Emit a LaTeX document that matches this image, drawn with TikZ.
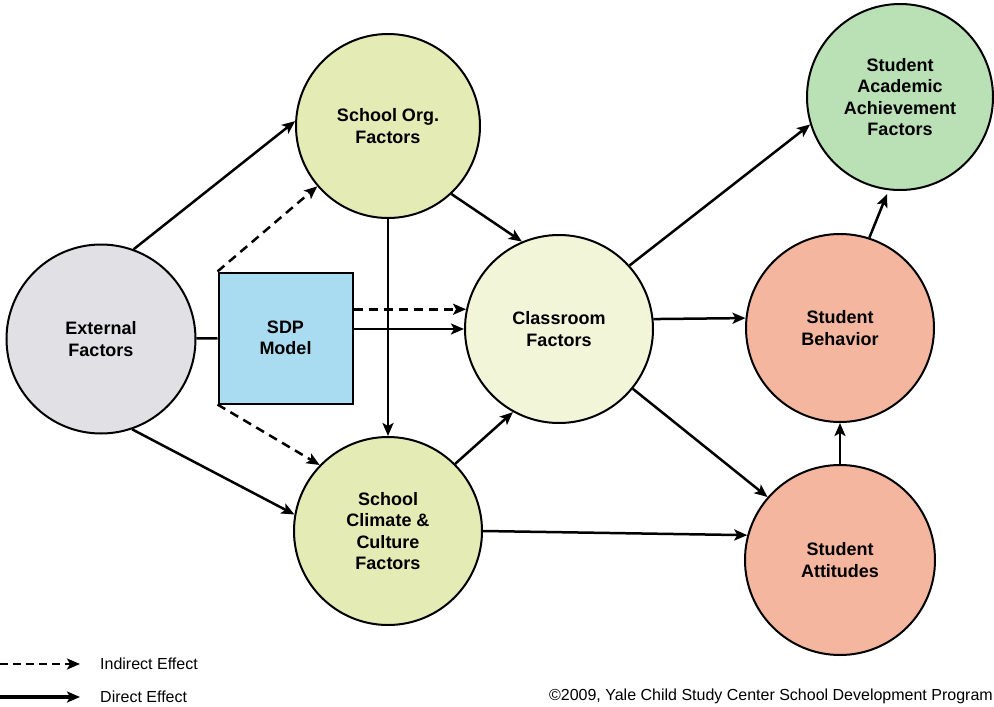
\documentclass[tikz,border=0pt]{standalone}
\usepackage{fontspec}
\setmainfont{Liberation Sans}
\usetikzlibrary{arrows.meta,calc}

\definecolor{extfill}{HTML}{E1E1E5}
\definecolor{orgfill}{HTML}{E4EBB4}
\definecolor{clsfill}{HTML}{F2F5D8}
\definecolor{acadfill}{HTML}{BAE0B6}
\definecolor{stufill}{HTML}{F5B6A0}
\definecolor{sdpfill}{HTML}{AADCF1}

\begin{document}
\begin{tikzpicture}[x=1pt,y=-1pt,
  factor/.style={circle,draw=black,line width=2pt,inner sep=0pt,align=center,
    font=\fontsize{18}{21.3}\selectfont\bfseries},
  modelbox/.style={rectangle,draw=black,line width=2pt,fill=sdpfill,inner sep=0pt,
    minimum width=134pt,minimum height=131pt,align=center,
    font=\fontsize{18}{21.3}\selectfont\bfseries},
  link/.style={line width=2.5pt,-{Stealth[length=13pt,width=11pt,inset=3pt]}},
  indirect/.style={link,dash pattern=on 9pt off 6pt},
  joinline/.style={line width=2.5pt},
  legendtext/.style={anchor=west,inner sep=0pt,font=\fontsize{16}{18}\selectfont},
]
\useasboundingbox (0,0) rectangle (994,707);

% factor circles
\node[factor,fill=extfill,minimum size=189pt]  (ext)  at (101,339) {External\\Factors};
\node[factor,fill=orgfill,minimum size=184pt]  (org)  at (388,126) {School Org.\\Factors};
\node[factor,fill=clsfill,minimum size=188pt]  (cls)  at (559,329) {Classroom\\Factors};
\node[factor,fill=orgfill,minimum size=188pt]  (clim) at (388,531) {School\\Climate \&\\Culture\\Factors};
\node[factor,fill=acadfill,minimum size=186pt] (acad) at (900,97)  {Student\\Academic\\Achievement\\Factors};
\node[factor,fill=stufill,minimum size=188pt]  (beh)  at (840,328) {Student\\Behavior};
\node[factor,fill=stufill,minimum size=190pt]  (att)  at (840,560) {Student\\Attitudes};

% programme box
\node[modelbox] (sdp) at (285.5,338) {SDP\\Model};

% direct effects
\draw[joinline] (ext) -- (sdp);
\draw[link] (ext.70) -- (org.177);
\draw[link] (ext.-71) -- (clim.170);
\draw[link] (sdp.east |- cls.180) -- (cls.180);
\draw[link] (org) -- (clim);
\draw[link] (org.-47) -- (cls.113);
\draw[link] (clim.45) -- (cls.241);
\draw[link] (cls.42) -- (acad.197);
\draw[link] (cls.6) -- (beh.174);
\draw[link] (cls.-39) -- (att.139);
\draw[link] (clim.0) -- (att.165);
\draw[link] (att) -- (beh);
\draw[link,shorten >=4pt] (beh.72) -- (acad.263);

% indirect effects
\draw[indirect] (sdp.north west) -- (org);
\draw[indirect] (sdp.south west) -- (clim.136);
\draw[indirect] (sdp.east |- cls.168) -- (cls.168);

% legend
\coordinate (ia) at (0,664);
\coordinate (ib) at (80,664);
\coordinate (da) at (0,697);
\coordinate (db) at (80,697);
\draw[indirect,line width=2.8pt,dash pattern=on 8pt off 5pt] (ia) -- (ib);
\draw[link,line width=3.6pt] (da) -- (db);
\node[legendtext] (ilab) at (100,664) {Indirect Effect};
\node[legendtext] (dlab) at (100,697) {Direct Effect};
\node[legendtext,anchor=east] (copy) at (993,696)
  {©2009, Yale Child Study Center School Development Program};
\end{tikzpicture}
\end{document}
